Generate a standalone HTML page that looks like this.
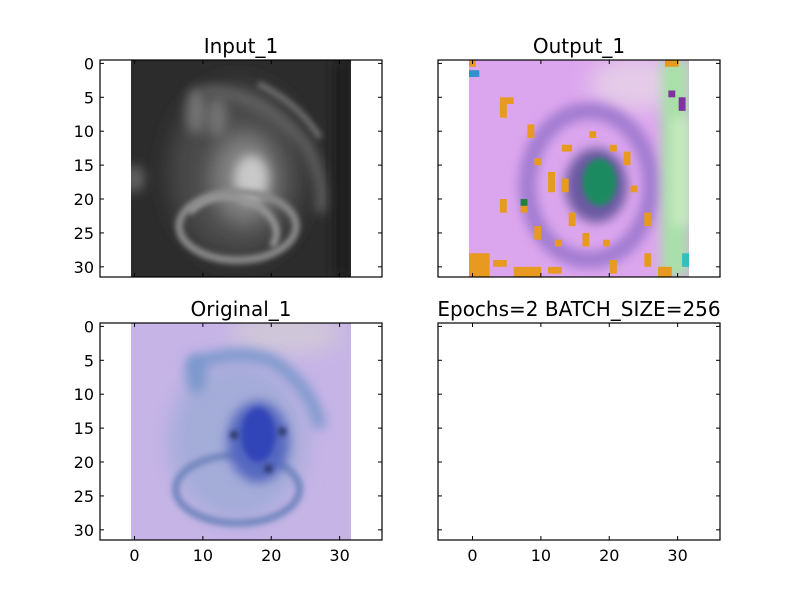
<!DOCTYPE html>
<html><head><meta charset="utf-8"><style>
html,body{margin:0;padding:0;background:#fff;}
svg text{font-family:"DejaVu Sans","Liberation Sans",sans-serif;}
</style></head><body>
<svg id="fig" width="800" height="600" viewBox="0 0 800 600" xmlns="http://www.w3.org/2000/svg">
<defs>
<filter id="b2" x="-50%" y="-50%" width="200%" height="200%"><feGaussianBlur stdDeviation="1.6"/></filter>
<filter id="b1" x="-50%" y="-50%" width="200%" height="200%"><feGaussianBlur stdDeviation="0.8"/></filter>
<filter id="b05" x="-50%" y="-50%" width="200%" height="200%"><feGaussianBlur stdDeviation="0.4"/></filter>
<clipPath id="ic"><rect x="-0.5" y="-0.5" width="32" height="32"/></clipPath>
</defs>
<rect width="800" height="600" fill="#fff"/>

<!-- Input image -->
<svg id="img-in" x="131" y="60" width="220" height="217" viewBox="-0.5 -0.5 32 32" preserveAspectRatio="none">
<g clip-path="url(#ic)">
<rect x="-0.5" y="-0.5" width="32" height="32" fill="#2c2c2c"/>
<ellipse cx="15" cy="16" rx="10" ry="13" fill="#4a4a4a" filter="url(#b2)"/>
<ellipse cx="16" cy="17" rx="5" ry="7" fill="#808080" filter="url(#b2)"/>
<ellipse cx="17" cy="17" rx="2.5" ry="3.5" fill="#c8c8c8" filter="url(#b1)"/>
<ellipse cx="15" cy="24" rx="8.5" ry="5" fill="none" stroke="#8a8a8a" stroke-width="1.1" filter="url(#b05)"/>
<path d="M8 22 Q12 18 18 21 Q22 24 20 27" fill="none" stroke="#959595" stroke-width="1" filter="url(#b05)"/>
<path d="M10 4 Q18 4 25 12 Q28 18 27 22" fill="none" stroke="#636363" stroke-width="1.5" filter="url(#b1)"/>
<path d="M18 3 Q24 6 27 11" fill="none" stroke="#686868" stroke-width="1" filter="url(#b05)"/>
<ellipse cx="9" cy="7" rx="1.5" ry="3.5" fill="#727272" filter="url(#b1)"/>
<ellipse cx="12" cy="8" rx="1.5" ry="3" fill="#727272" filter="url(#b1)"/>
<ellipse cx="0" cy="17" rx="1.5" ry="2" fill="#606060" filter="url(#b1)"/>
<rect x="29" y="-0.5" width="2.5" height="32" fill="#1c1c1c" filter="url(#b1)"/>
</g></svg>

<!-- Output image -->
<svg id="img-out" x="469" y="60" width="220" height="217" viewBox="-0.5 -0.5 32 32" preserveAspectRatio="none">
<g clip-path="url(#ic)">
<rect x="-0.5" y="-0.5" width="32" height="32" fill="#dca6ee"/>
<ellipse cx="24" cy="3" rx="7" ry="4" fill="#e4cce8" filter="url(#b2)"/>
<ellipse cx="17" cy="18" rx="9" ry="11" fill="none" stroke="#a07ad0" stroke-width="2.5" filter="url(#b1)"/>
<ellipse cx="18" cy="18" rx="4.5" ry="5.5" fill="#6a5aa0" filter="url(#b1)"/>
<ellipse cx="18.5" cy="17.5" rx="2.5" ry="3.5" fill="#1f8a60" filter="url(#b05)"/>
<rect x="27.5" y="-0.5" width="4" height="32" fill="#a8e0a8" filter="url(#b1)"/>
<rect x="29" y="8" width="2.5" height="16" fill="#c8e8c0" filter="url(#b1)"/>
<g fill="#e89a20">
<rect x="4" y="5" width="1" height="3"/><rect x="5" y="5" width="1" height="1"/>
<rect x="8" y="9" width="1" height="2"/><rect x="13" y="12" width="1.5" height="1"/>
<rect x="9" y="14" width="1" height="1"/><rect x="20" y="12" width="1" height="1"/>
<rect x="22" y="13" width="1" height="2"/><rect x="11" y="16" width="1" height="3"/>
<rect x="13" y="17" width="1" height="2"/><rect x="4" y="20" width="1" height="2"/>
<rect x="7" y="21" width="1" height="1"/><rect x="14" y="22" width="1" height="2"/>
<rect x="9" y="24" width="1" height="2"/><rect x="16" y="25" width="1" height="2"/>
<rect x="12" y="26" width="1" height="1"/><rect x="19" y="26" width="1" height="1"/>
<rect x="25" y="22" width="1" height="2"/><rect x="23" y="18" width="1" height="1"/>
<rect x="-0.5" y="28" width="3" height="3.5"/><rect x="3" y="29" width="2" height="1"/>
<rect x="6" y="30" width="4" height="1.5"/><rect x="11" y="30" width="2" height="1"/>
<rect x="20" y="29" width="1" height="2"/><rect x="25" y="28" width="1" height="2"/>
<rect x="27" y="30" width="2" height="1.5"/><rect x="28" y="-0.5" width="2" height="1"/>
<rect x="-0.5" y="-0.5" width="1" height="1"/><rect x="17" y="10" width="1" height="1"/>
</g>
<rect x="-0.5" y="1" width="1.5" height="1" fill="#3090d0"/>
<rect x="28.5" y="4" width="1" height="1" fill="#8030a0"/>
<rect x="30" y="5" width="1" height="2" fill="#8030a0"/>
<rect x="7" y="20" width="1" height="1" fill="#208040"/>
<rect x="30.5" y="28" width="1" height="2" fill="#30c0c0"/>
</g></svg>

<!-- Original image -->
<svg id="img-orig" x="131" y="323" width="220" height="217" viewBox="-0.5 -0.5 32 32" preserveAspectRatio="none">
<g clip-path="url(#ic)">
<rect x="-0.5" y="-0.5" width="32" height="32" fill="#c6b4e6"/>
<ellipse cx="22" cy="1" rx="8" ry="3" fill="#d0c8d8" filter="url(#b2)"/>
<ellipse cx="15" cy="17" rx="10" ry="12" fill="#a4acd8" filter="url(#b2)"/>
<path d="M8 6 Q14 3 20 5 Q26 9 27 15" fill="none" stroke="#7a98cc" stroke-width="1.8" filter="url(#b1)"/>
<ellipse cx="15" cy="24" rx="9" ry="5" fill="none" stroke="#7488c0" stroke-width="1.1" filter="url(#b05)"/>
<ellipse cx="18" cy="17" rx="4.5" ry="6" fill="#5468c0" filter="url(#b1)"/>
<ellipse cx="18" cy="16" rx="2.5" ry="4" fill="#3044b8" filter="url(#b05)"/>
<circle cx="14.5" cy="16" r="0.6" fill="#283260" filter="url(#b05)"/>
<circle cx="21.5" cy="15.5" r="0.6" fill="#283260" filter="url(#b05)"/>
<circle cx="19.5" cy="21" r="0.6" fill="#283260" filter="url(#b05)"/>
<ellipse cx="9" cy="7" rx="1.5" ry="3" fill="#7a98cc" filter="url(#b1)"/>
</g></svg>

<g id="axes-layer"></g>
</svg>
<script>
const axesTitles = ["Input_1", "Output_1", "Original_1", "Epochs=2 BATCH_SIZE=256"];
const xTicks = [0, 10, 20, 30];
const yTicks = [0, 5, 10, 15, 20, 25, 30];
const xLim = [-5.05, 36.2];
const yLim = [31.5, -0.5];
const boxes = [[100,60,282,217],[438,60,282,217],[100,323,282,217],[438,323,282,217]];
const showX = [false,false,true,true];
const showY = [true,false,true,false];
const NS = "http://www.w3.org/2000/svg";
const layer = document.getElementById('axes-layer');
function mk(tag, attrs, parent){const e=document.createElementNS(NS,tag);for(const k in attrs)e.setAttribute(k,attrs[k]);parent.appendChild(e);return e;}
boxes.forEach((b,i)=>{
  const [L,T,W,H]=b;
  const sx=v=>L+(v-xLim[0])/(xLim[1]-xLim[0])*W;
  const sy=v=>T+(v-yLim[1])/(yLim[0]-yLim[1])*H;
  const g=mk('g',{},layer);
  
  
  xTicks.forEach(v=>{
    const x=sx(v);
    const t1=mk('line',{x1:x,x2:x,y1:T+H,y2:T+H-4,stroke:'#000','stroke-width':1},g);
    
    
    mk('line',{x1:x,x2:x,y1:T,y2:T+4,stroke:'#000','stroke-width':1},g);
    if(showX[i]){
      const tx=mk('text',{x:x,y:T+H+21,'text-anchor':'middle','font-size':16,fill:'#000'},g);
      tx.textContent=v;
      
      
    }
  });
  yTicks.forEach(v=>{
    const y=sy(v);
    const t2=mk('line',{x1:L,x2:L+4,y1:y,y2:y,stroke:'#000','stroke-width':1},g);
    
    
    mk('line',{x1:L+W,x2:L+W-4,y1:y,y2:y,stroke:'#000','stroke-width':1},g);
    if(showY[i]){
      const ty=mk('text',{x:L-6,y:y+6,'text-anchor':'end','font-size':16,fill:'#000'},g);
      ty.textContent=v;
      
      
    }
  });
  const fr=mk('rect',{x:L,y:T,width:W,height:H,fill:'none',stroke:'#000','stroke-width':1.2},g);
  
  
  const ti=mk('text',{x:L+W/2,y:T-7,'text-anchor':'middle','font-size':20,fill:'#000'},g);
  ti.textContent=axesTitles[i];
  
  
});
</script>
</body></html>
